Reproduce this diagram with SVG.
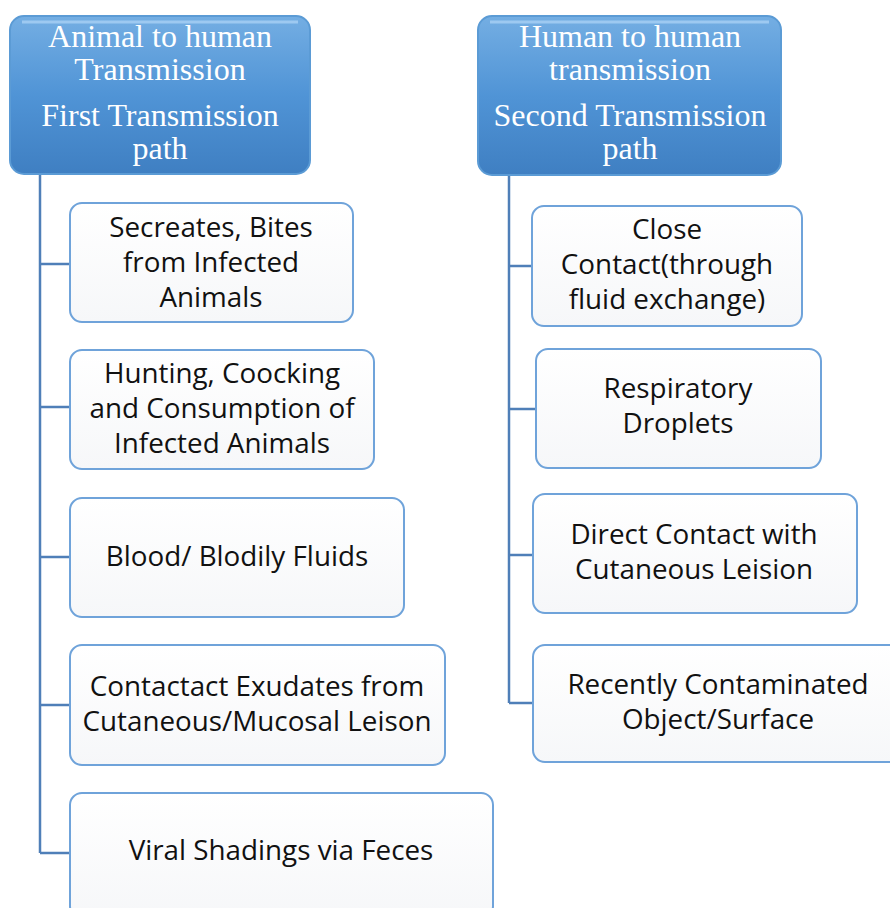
<svg xmlns="http://www.w3.org/2000/svg" width="890" height="908" viewBox="0 0 890 908">
<defs>
<linearGradient id="hdr" x1="0" y1="0" x2="0" y2="1">
<stop offset="0" stop-color="#74aee3"/>
<stop offset="0.5" stop-color="#5094d6"/>
<stop offset="1" stop-color="#3f7fc2"/>
</linearGradient>
<linearGradient id="box" x1="0" y1="0" x2="0" y2="1">
<stop offset="0" stop-color="#ffffff"/>
<stop offset="1" stop-color="#f6f7f9"/>
</linearGradient>
</defs>
<style>
.hdr{fill:url(#hdr);stroke:#5b9bd5;stroke-width:2}
.hl{fill:none;stroke:#a9d1f5;stroke-width:3;opacity:0.8}
.ht{font-family:"Liberation Serif",serif;font-size:32px;fill:#ffffff;text-anchor:middle}
.bx{fill:url(#box);stroke:#6fa3da;stroke-width:2}
.bt{font-family:"Open Sans","Liberation Sans",Arial,sans-serif;font-size:27.8px;fill:#111111;text-anchor:middle}
.ln{fill:none;stroke:#4f7fb8;stroke-width:2.5}
</style>
<g id="connectors">
<path class="ln" d="M40 174 V853 M40 264 H70 M40 407 H70 M40 557 H70 M40 705 H70 M40 853 H70"/>
<path class="ln" d="M509 175 V703 M509 266 H532 M509 409 H536 M509 555 H533 M509 703 H533"/>
</g>
<g id="h1">
<rect class="hdr" x="10" y="16" width="300" height="158" rx="14"/>
<path class="hl" d="M22 22 H298"/>
<text class="ht" x="160" y="47">Animal to human</text>
<text class="ht" x="160" y="80">Transmission</text>
<text class="ht" x="160" y="126">First Transmission</text>
<text class="ht" x="160" y="159">path</text>
</g>
<g id="h2">
<rect class="hdr" x="478" y="16" width="303" height="159" rx="14"/>
<path class="hl" d="M490 22 H769"/>
<text class="ht" x="630" y="47">Human to human</text>
<text class="ht" x="630" y="80">transmission</text>
<text class="ht" x="630" y="126">Second Transmission</text>
<text class="ht" x="630" y="159">path</text>
</g>
<g id="l1">
<rect class="bx" x="70" y="203" width="283" height="119" rx="12"/>
<text class="bt" x="211" y="237">Secreates, Bites</text>
<text class="bt" x="211" y="272">from Infected</text>
<text class="bt" x="211" y="307">Animals</text>
</g>
<g id="l2">
<rect class="bx" x="70" y="350" width="304" height="119" rx="12"/>
<text class="bt" x="222" y="383">Hunting, Coocking</text>
<text class="bt" x="222" y="418">and Consumption of</text>
<text class="bt" x="222" y="453">Infected Animals</text>
</g>
<g id="l3">
<rect class="bx" x="70" y="498" width="334" height="119" rx="12"/>
<text class="bt" x="237" y="566">Blood/ Blodily Fluids</text>
</g>
<g id="l4">
<rect class="bx" x="70" y="645" width="375" height="120" rx="12"/>
<text class="bt" x="257" y="696">Contactact Exudates from</text>
<text class="bt" x="257" y="731">Cutaneous/Mucosal Leison</text>
</g>
<g id="l5">
<rect class="bx" x="70" y="793" width="423" height="125" rx="12"/>
<text class="bt" x="281" y="860">Viral Shadings via Feces</text>
</g>
<g id="r1">
<rect class="bx" x="532" y="206" width="270" height="120" rx="12"/>
<text class="bt" x="667" y="239">Close</text>
<text class="bt" x="667" y="274">Contact(through</text>
<text class="bt" x="667" y="309">fluid exchange)</text>
</g>
<g id="r2">
<rect class="bx" x="536" y="349" width="285" height="119" rx="12"/>
<text class="bt" x="678" y="398">Respiratory</text>
<text class="bt" x="678" y="433">Droplets</text>
</g>
<g id="r3">
<rect class="bx" x="533" y="494" width="324" height="119" rx="12"/>
<text class="bt" x="694" y="544">Direct Contact with</text>
<text class="bt" x="694" y="579">Cutaneous Leision</text>
</g>
<g id="r4">
<rect class="bx" x="533" y="645" width="370" height="117" rx="12"/>
<text class="bt" x="718" y="694">Recently Contaminated</text>
<text class="bt" x="718" y="729">Object/Surface</text>
</g>
</svg>
